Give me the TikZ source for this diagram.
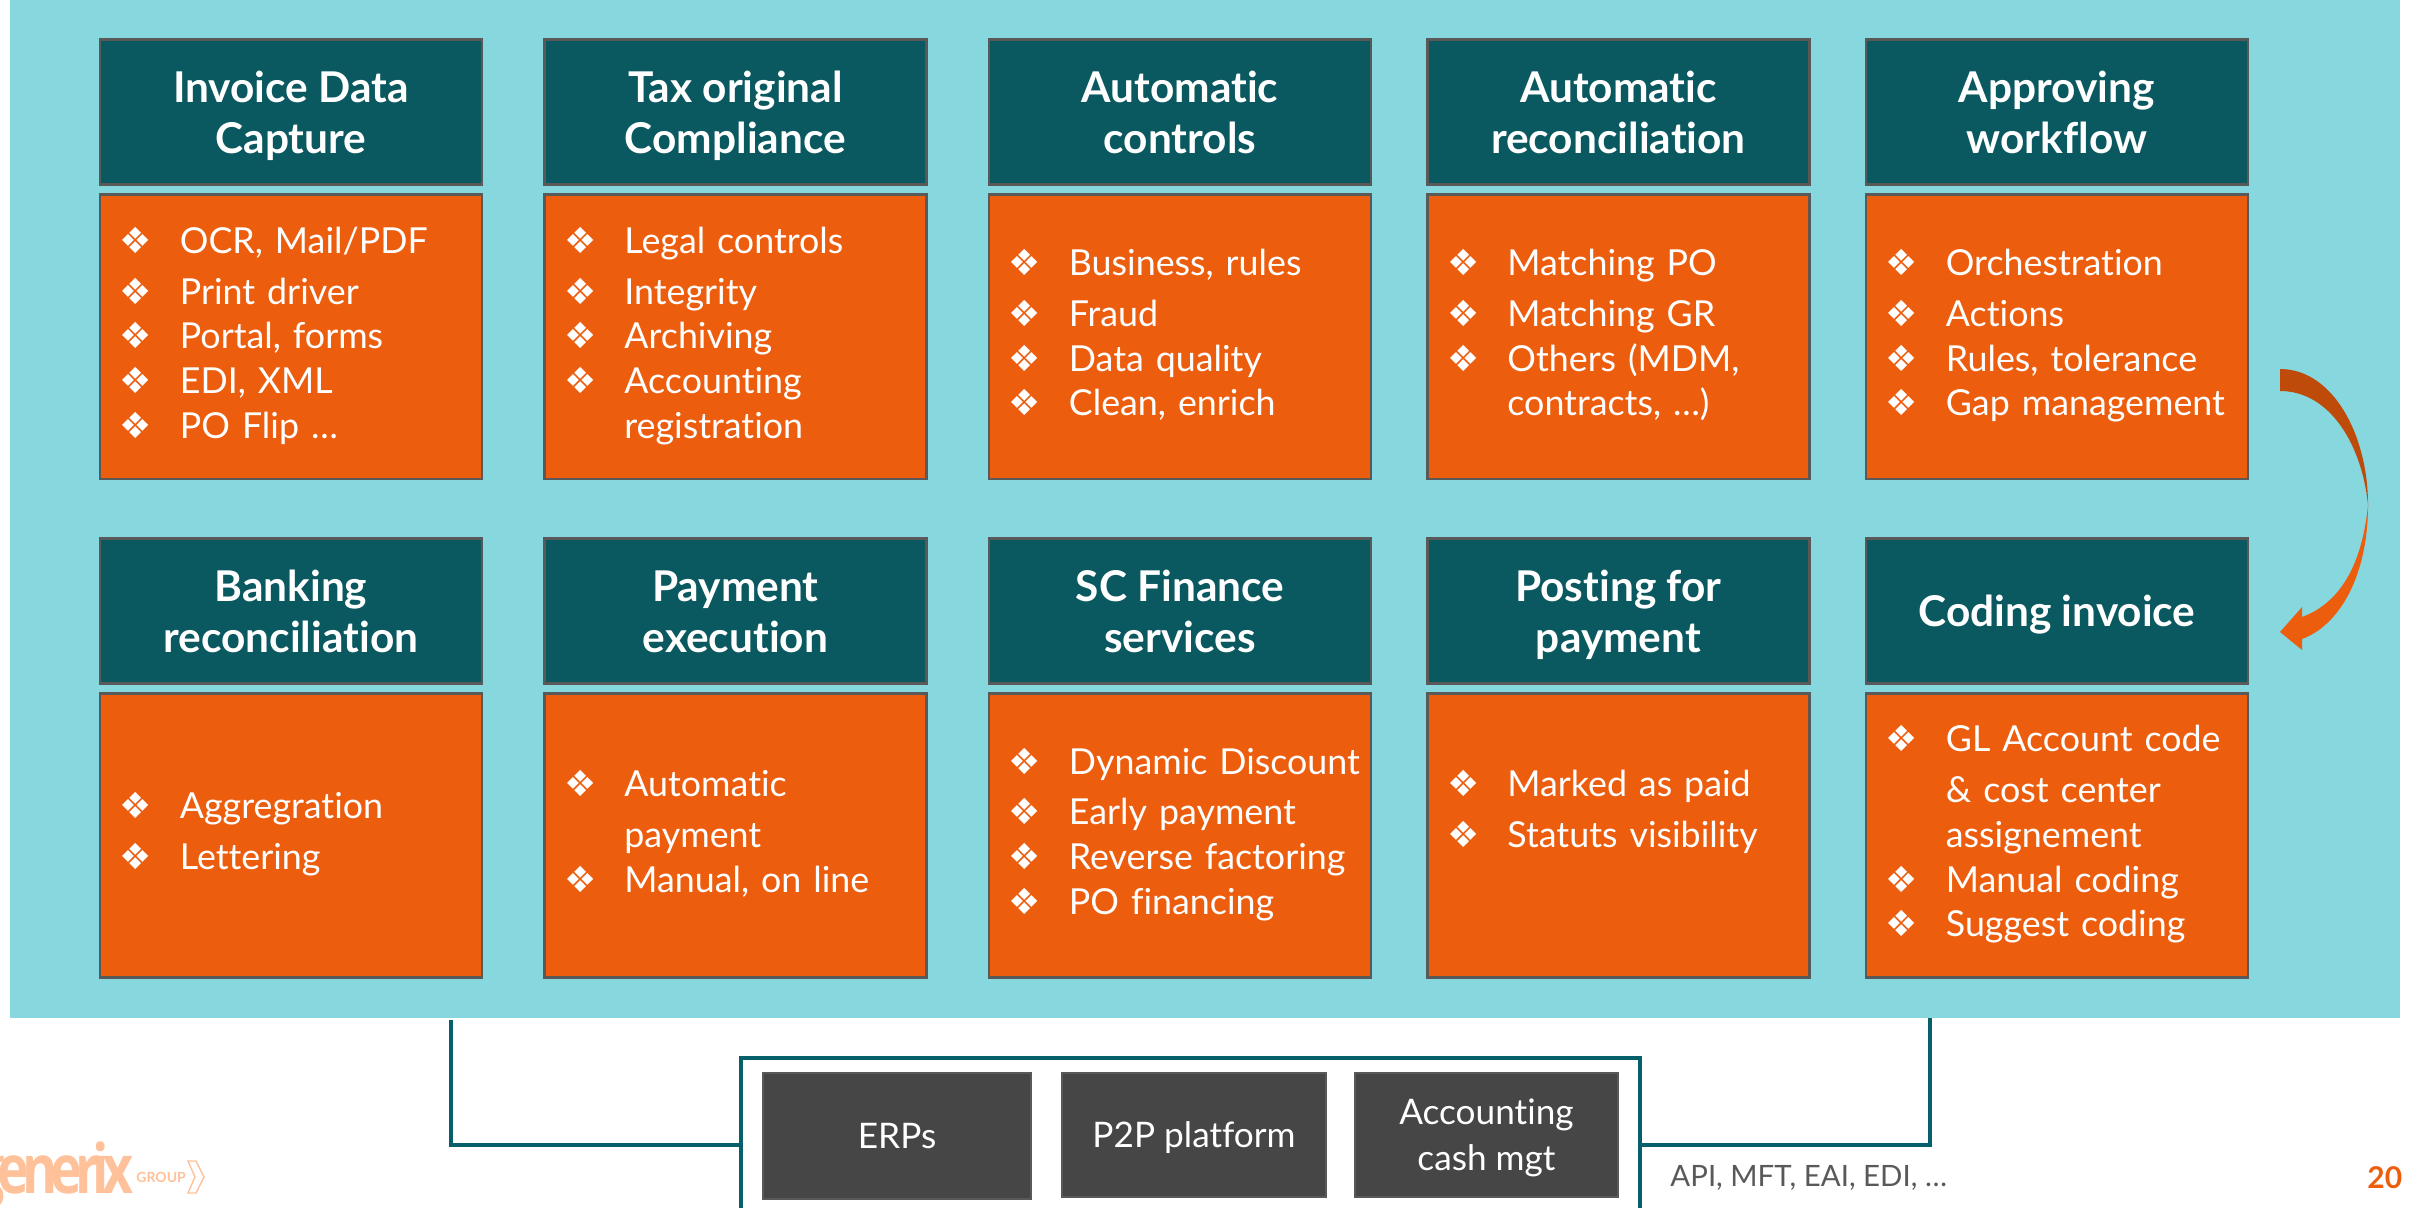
\documentclass[tikz,border=0pt]{standalone}
\usepackage{fontspec}
\setmainfont{Lato}[Ligatures=NoCommon]
\newfontfamily\symf{DejaVu Sans}
\newfontfamily\logof[LetterSpace=-13]{Open Sans}
\definecolor{panelc}{HTML}{87D7DE}
\definecolor{headc}{HTML}{0B5960}
\definecolor{orangec}{HTML}{EC5D0E}
\definecolor{orangedk}{HTML}{BE4B0A}
\definecolor{edgec}{HTML}{595959}
\definecolor{linkc}{HTML}{05606B}
\definecolor{sysc}{HTML}{464646}
\definecolor{logoc}{HTML}{FFC19A}
\tikzset{
 headbox/.style={draw=edgec,line width=1.4pt,fill=headc,text=white,anchor=north west,minimum width=191pt,minimum height=72.5pt,inner xsep=0pt,inner ysep=0pt,align=center,font=\fontsize{21.2}{25.5}\selectfont\bfseries},
 bodybox/.style={draw=edgec,line width=1.4pt,fill=orangec,text=white,anchor=north west,minimum width=191pt,minimum height=142pt,inner xsep=0pt,inner ysep=0pt,text width=191pt,align=left,font=\fontsize{17.9}{22.35}\selectfont},
 sysbox/.style={draw=edgec,line width=1pt,fill=sysc,text=white,anchor=north west,inner sep=0pt,align=center,font=\fontsize{17.6}{23}\selectfont},
 linkline/.style={draw=linkc,line width=1.9pt},
 note/.style={anchor=base west,inner sep=0pt,font=\fontsize{14.7}{18}\selectfont}
}
\newcommand{\bi}{\strut\hspace*{10pt}\makebox[30pt][l]{\symf\fontsize{18}{18}\selectfont ❖}}
\newcommand{\ci}{\strut\hspace*{40pt}}
\newcommand{\card}[5]{%
 \node[headbox] (h#1) at (#2,#3) {\rule{0pt}{23.4pt}#4\strut};
 \node[bodybox] (b#1) at (#2,#3+155) {\vspace*{3pt}#5};
}
\begin{document}
\begin{tikzpicture}[x=0.5pt,y=-0.5pt]
\useasboundingbox (0,0) rectangle (2412,1208);
\clip (0,0) rectangle (2412,1208);
\node[fill=panelc,anchor=north west,minimum width=1195pt,minimum height=509pt,inner sep=0pt] (panel) at (10,0) {};
\card{a}{98.5}{38.5}{Invoice Data\\Capture}{\bi OCR, Mail/PDF\\\bi Print driver\\\bi Portal, forms\\\bi EDI, XML\\\bi PO Flip …}
\card{b}{543}{38.5}{Tax original\\Compliance}{\bi Legal controls\\\bi Integrity\\\bi Archiving\\\bi Accounting\\\ci registration}
\card{c}{987.5}{38.5}{Automatic\\controls}{\bi Business, rules\\\bi Fraud\\\bi Data quality\\\bi Clean, enrich}
\card{d}{1426}{38.5}{Automatic\\reconciliation}{\bi Matching PO\\\bi Matching GR\\\bi Others (MDM,\\\ci contracts, …)}
\card{e}{1864.5}{38.5}{Approving\\workflow}{\bi Orchestration\\\bi Actions\\\bi Rules, tolerance\\\bi Gap management}
\card{f}{98.5}{537}{Banking\\reconciliation}{\bi Aggregration\\\bi Lettering}
\card{g}{543}{537}{Payment\\execution}{\bi Automatic\\\ci payment\\\bi Manual, on line}
\card{h}{987.5}{537}{SC Finance\\services}{\bi \mbox{Dynamic Discount}\\\bi Early payment\\\bi Reverse factoring\\\bi PO financing}
\card{i}{1426}{537}{Posting for\\payment}{\bi Marked as paid\\\bi Statuts visibility\\\ci}
\card{j}{1864.5}{537}{Coding invoice}{\bi GL Account code\\\ci \& cost center\\\ci assignement\\\bi Manual coding\\\bi Suggest coding}
% curved arrow
\coordinate (cs1) at (2280,369);
\coordinate (cs2) at (2280,391);
\coordinate (cm) at (2368,505);
\fill[orangedk] (cs1) .. controls (2333,369) and (2368,435) .. (cm) .. controls (2362,445) and (2330,391) .. (cs2) -- cycle;
\fill[orangec] (cm) .. controls (2368,575) and (2340,625) .. (2302,639) -- (2302,650) -- (2280,632) -- (2302,607) -- (2302,617) .. controls (2340,603) and (2362,565) .. (cm) -- cycle;
% systems
\coordinate (la) at (451,1020);
\coordinate (ra) at (1930,1018);
\node[draw=linkc,line width=2pt,fill=white,anchor=north west,minimum width=449.5pt,minimum height=87pt,inner sep=0pt] (sys) at (739,1056) {};
\draw[linkline] (la) |- (sys.west);
\draw[linkline] (ra) |- (sys.east);
\node[sysbox,minimum width=134pt,minimum height=63pt] (s1) at (762,1072) {ERPs};
\node[sysbox,minimum width=132pt,minimum height=62pt] (s2) at (1061,1072) {\rule{0pt}{16pt}P2P platform};
\node[sysbox,minimum width=131.5pt,minimum height=62pt] (s3) at (1354,1072) {\rule{0pt}{16pt}Accounting\\cash mgt};
\node[note,text=edgec] (api) at (1670,1186) {API, MFT, EAI, EDI, …};
\node[note,text=orangec,font=\fontsize{15}{18}\selectfont\bfseries] (pg) at (2367,1188) {20};
% logo
\node[anchor=base west,inner sep=0pt,text=logoc,font=\logof\fontsize{34}{34}\selectfont\bfseries,xscale=.79,transform shape] (lg) at (-26,1193) {generix};
\node[anchor=base west,inner sep=0pt,text=logoc,font=\fontsize{7}{8}\selectfont\bfseries] (lg2) at (136,1182) {GROUP};
\draw[logoc,line width=0.7pt,line join=miter] (188,1161) -- (196,1161) -- (204,1177) -- (196,1193) -- (188,1193) -- (195,1177) -- cycle;
\end{tikzpicture}
\end{document}
